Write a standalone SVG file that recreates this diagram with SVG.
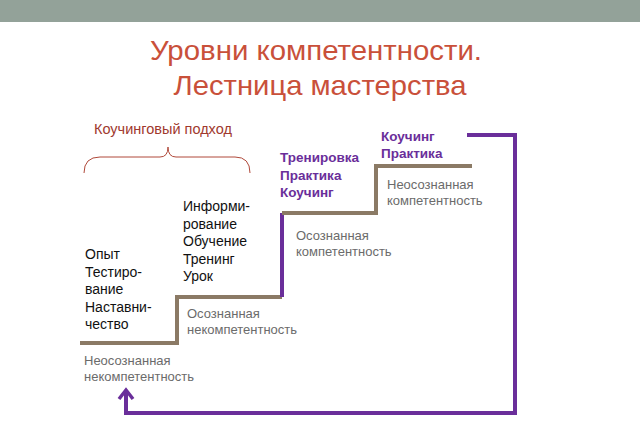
<svg xmlns="http://www.w3.org/2000/svg" width="640" height="443" viewBox="0 0 640 443">
<style>
.t{font-family:"Liberation Sans",Arial,sans-serif}
.title{fill:#c9503a;font-size:28px}
.g{fill:#6b6b6b;font-size:13px}
.k{fill:#111;font-size:14px}
.p{fill:#6a2e9a;font-size:13.5px;font-weight:bold}
.stair{fill:none;stroke-width:4}
</style>
<rect x="0" y="0" width="640" height="22" fill="#93a299"/>
<text class="t title" x="316" y="60" text-anchor="middle" textLength="332" lengthAdjust="spacingAndGlyphs">Уровни компетентности.</text>
<text class="t title" x="320" y="95" text-anchor="middle" textLength="293" lengthAdjust="spacingAndGlyphs">Лестница мастерства</text>
<g id="brace">
<text class="t" x="94" y="134" font-size="14.5" fill="#a0392e">Коучинговый подход</text>
<path d="M84,173 Q84,157 100,157 L160,157 Q168,157 168,147 Q168,157 176,157 L235,157 Q250,157 250,173" fill="none" stroke="#b0493a" stroke-width="1"/>
</g>
<g id="connectors">
<path class="stair" d="M80,343 L177,343 L177,297 L282,297" stroke="#8b7a65"/>
<path class="stair" d="M282,297 L282,213" stroke="#6a2e9a" stroke-width="5"/>
<path class="stair" d="M282,213 L376,213 L376,166 L472,166" stroke="#8b7a65"/>
<path d="M467,135 L515,135 L515,413 L126,413 L126,392" fill="none" stroke="#6a2e9a" stroke-width="4"/>
<path d="M119,399 L126,390 L133,399" fill="none" stroke="#6a2e9a" stroke-width="3.5"/>
</g>
<g id="n1"><text class="t k" x="85" y="259">Опыт<tspan x="85" dy="17.5">Тестиро-</tspan><tspan x="85" dy="17.5">вание</tspan><tspan x="85" dy="17.5">Наставни-</tspan><tspan x="85" dy="17.5">чество</tspan></text></g>
<g id="n2"><text class="t k" x="183" y="211">Информи-<tspan x="183" dy="17.5">рование</tspan><tspan x="183" dy="17.5">Обучение</tspan><tspan x="183" dy="17.5">Тренинг</tspan><tspan x="183" dy="17.5">Урок</tspan></text></g>
<g id="n3"><text class="t p" x="280" y="162">Тренировка<tspan x="280" dy="17.5">Практика</tspan><tspan x="280" dy="17.5">Коучинг</tspan></text></g>
<g id="n4"><text class="t p" x="381" y="141">Коучинг<tspan x="381" dy="17">Практика</tspan></text></g>
<g id="l1"><text class="t g" x="84" y="365">Неосознанная<tspan x="84" dy="16">некомпетентность</tspan></text></g>
<g id="l2"><text class="t g" x="187" y="318">Осознанная<tspan x="187" dy="16">некомпетентность</tspan></text></g>
<g id="l3"><text class="t g" x="296" y="240">Осознанная<tspan x="296" dy="16">компетентность</tspan></text></g>
<g id="l4"><text class="t g" x="387" y="189">Неосознанная<tspan x="387" dy="16">компетентность</tspan></text></g>
</svg>
